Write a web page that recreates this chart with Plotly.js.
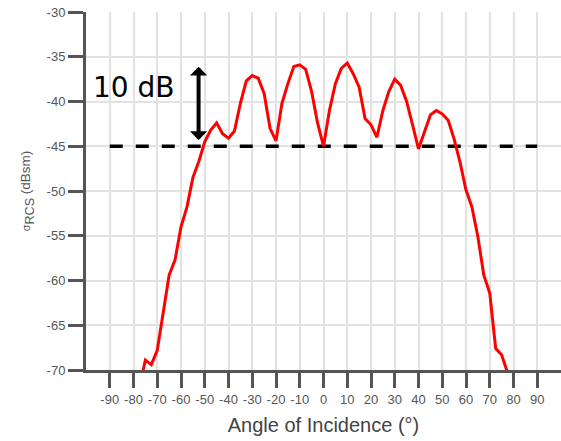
<!DOCTYPE html>
<html>
<head>
<meta charset="utf-8">
<script src="https://cdn.plot.ly/plotly-3.0.1.min.js"></script>
<style>html,body{margin:0;padding:0;background:#fff;}#chart{width:561px;height:441px;}</style>
</head>
<body>
<div id="chart"></div>
<script>
// Angle of incidence (degrees)
const angle = [-77.5, -75, -72.5, -70, -67.5, -65, -62.5, -60, -57.5, -55, -52.5, -50, -47.5, -45, -42.5, -40,
  -37.5, -35, -32.5, -30, -27.5, -25, -22.5, -20, -17.5, -15, -12.5, -10, -7.5, -5, -2.5, 0,
  2.5, 5, 7.5, 10, 12.5, 15, 17.5, 20, 22.5, 25, 27.5, 30, 32.5, 35, 37.5, 40,
  42.5, 45, 47.5, 50, 52.5, 55, 57.5, 60, 62.5, 65, 67.5, 70, 72.5, 75, 77.5];
// Radar cross section (dBsm)
const rcs = [-71.9, -68.9, -69.4, -67.8, -63.6, -59.4, -57.7, -54.0, -51.8, -48.5, -46.7, -44.5, -43.2, -42.4, -43.6, -44.1,
  -43.3, -40.2, -37.7, -37.1, -37.4, -39.1, -43.0, -44.4, -40.2, -38.0, -36.1, -35.9, -36.4, -38.9, -42.4, -45.0,
  -41.0, -38.0, -36.3, -35.7, -36.9, -38.4, -41.9, -42.6, -44.0, -41.0, -38.9, -37.5, -38.2, -40.0, -42.6, -45.3,
  -43.4, -41.5, -41.0, -41.4, -42.1, -44.2, -46.8, -49.9, -51.8, -55.1, -59.4, -61.4, -67.6, -68.3, -70.3];
// Reference threshold line
const refX = [-90, 90];
const refY = [-45, -45];
// 10 dB marker
const markerX = -52.6;
const markerTop = -35.95;
const markerBottom = -44.3;
const markerLabel = "10 dB";
const labelX = -79.8;
const labelY = -38.4;
// Ticks
const xTicks = [-90, -80, -70, -60, -50, -40, -30, -20, -10, 0, 10, 20, 30, 40, 50, 60, 70, 80, 90];
const yTicks = [-70, -65, -60, -55, -50, -45, -40, -35, -30];

const traces = [
  {x: refX, y: refY, mode: 'lines', line: {color: '#000', width: 3.5, dash: '13px,13px'}, hoverinfo: 'skip', showlegend: false},
  {x: angle, y: rcs, mode: 'lines', line: {color: '#ff0000', width: 3}, showlegend: false}
];

const axisCommon = {
  showline: true, linecolor: '#555', linewidth: 3,
  ticks: 'outside', ticklen: 15, tickwidth: 3, tickcolor: '#555',
  showgrid: true, gridcolor: '#e2e2e2', gridwidth: 2,
  zeroline: false,
  tickfont: {family: 'Liberation Sans, Arial, sans-serif', size: 13, color: '#555'}
};

const layout = {
  width: 561, height: 441,
  margin: {l: 86, r: 0, t: 12, b: 71},
  paper_bgcolor: '#fff', plot_bgcolor: '#fff',
  showlegend: false,
  xaxis: Object.assign({}, axisCommon, {
    range: [-100, 100], tickmode: 'array', tickvals: xTicks, ticktext: xTicks.map(String),
    title: {text: 'Angle of Incidence (°)', font: {family: 'Liberation Sans, Arial, sans-serif', size: 20, color: '#444'}, standoff: 13}
  }),
  yaxis: Object.assign({}, axisCommon, {
    range: [-70, -30], tickmode: 'array', tickvals: yTicks, ticktext: yTicks.map(String),
    title: {text: '<span style="font-size:11px">σ</span><sub>RCS</sub><span style="font-size:13.5px"> (dBsm)</span>', font: {family: 'Liberation Sans, Arial, sans-serif', size: 18, color: '#555'}, standoff: 12}
  }),
  annotations: [
    {x: markerX, y: markerBottom, ax: markerX, ay: markerTop, xref: 'x', yref: 'y', axref: 'x', ayref: 'y',
     text: '', showarrow: true, arrowside: 'end+start', arrowhead: 1, startarrowhead: 1,
     arrowsize: 0.72, startarrowsize: 0.72, arrowwidth: 4, arrowcolor: '#000', standoff: 0, startstandoff: 0},
    {x: labelX, y: labelY, xref: 'x', yref: 'y', text: markerLabel, showarrow: false,
     font: {family: 'DejaVu Sans, Verdana, sans-serif', size: 28, color: '#000'}, xanchor: 'center', yanchor: 'middle'}
  ]
};

Plotly.newPlot('chart', traces, layout, {displayModeBar: false, staticPlot: true});
</script>
</body>
</html>
